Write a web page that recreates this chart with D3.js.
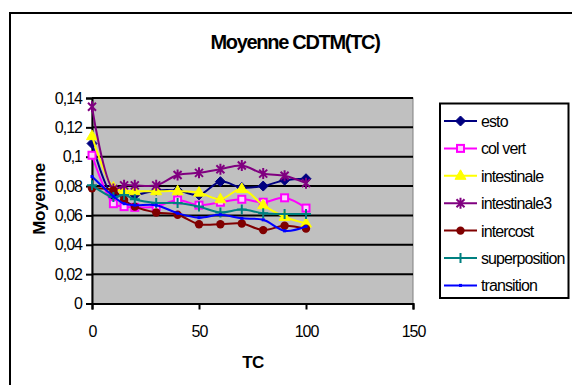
<!DOCTYPE html>
<html>
<head>
<meta charset="utf-8">
<script src="https://cdn.jsdelivr.net/npm/d3@7"></script>
<style>
  body { margin: 0; background: #fff; }
  text { font-family: "Liberation Sans", Arial, sans-serif; }
</style>
</head>
<body>
<div id="chart"></div>
<script>
// valeurs
const tcValues = [0, 10, 15, 20, 30, 40, 50, 60, 70, 80, 90, 100];
const esto = [0.109, 0.073, 0.075, 0.074, 0.077, 0.077, 0.074, 0.083, 0.079, 0.080, 0.084, 0.085];
const colVert = [0.101, 0.068, 0.066, 0.0655, 0.066, 0.0705, 0.067, 0.069, 0.071, 0.069, 0.072, 0.065];
const intestinale = [0.114, 0.079, 0.077, 0.0765, 0.0765, 0.0765, 0.0755, 0.071, 0.078, 0.067, 0.059, 0.0545];
const intestinale3 = [0.134, 0.078, 0.0805, 0.0805, 0.0805, 0.0875, 0.089, 0.0915, 0.094, 0.0885, 0.087, 0.082];
const intercost = [0.0785, 0.077, 0.0705, 0.066, 0.062, 0.0605, 0.054, 0.054, 0.0545, 0.050, 0.053, 0.051];
const superposition = [0.0805, 0.0725, 0.074, 0.071, 0.0685, 0.0685, 0.066, 0.062, 0.064, 0.0615, 0.061, 0.061];
const transition = [0.0865, 0.073, 0.068, 0.067, 0.067, 0.0615, 0.0585, 0.0605, 0.058, 0.057, 0.0495, 0.0525];

const seriesNames = ["esto", "col vert", "intestinale", "intestinale3", "intercost", "superposition", "transition"];
const seriesValues = [esto, colVert, intestinale, intestinale3, intercost, superposition, transition];
const xTicks = [0, 50, 100, 150];
const yTicks = [0, 0.02, 0.04, 0.06, 0.08, 0.1, 0.12, 0.14];

// styles des séries (couleur + marqueur)
const styles = {
  "esto": { color: "#000080", marker: "diamond" },
  "col vert": { color: "#FF00FF", marker: "square" },
  "intestinale": { color: "#FFFF00", marker: "triangle" },
  "intestinale3": { color: "#800080", marker: "star" },
  "intercost": { color: "#800000", marker: "circle" },
  "superposition": { color: "#008080", marker: "plus" },
  "transition": { color: "#0000FF", marker: "dash" }
};

const W = 572, H = 385;
const svg = d3.select("#chart").append("svg")
  .attr("width", W).attr("height", H);

svg.append("rect").attr("width", W).attr("height", H).attr("fill", "#fff");
// cadre du graphique (coupé à droite et en bas)
svg.append("rect")
  .attr("x", 10).attr("y", 13).attr("width", 620).attr("height", 420)
  .attr("fill", "none").attr("stroke", "#000").attr("stroke-width", 2);

const x = d3.scaleLinear().domain([0, 150]).range([92, 413]);
const y = d3.scaleLinear().domain([0, 0.14]).range([303.5, 98]);
const fmt = d => String(+d.toFixed(2)).replace(".", ",");

// zone de traçage
svg.append("rect")
  .attr("x", x(0)).attr("y", y(0.14))
  .attr("width", x(150) - x(0)).attr("height", y(0) - y(0.14))
  .attr("fill", "#C0C0C0").attr("stroke", "#808080").attr("stroke-width", 1);

// quadrillage
svg.append("g").selectAll("line")
  .data(yTicks.filter(d => d > 0))
  .enter().append("line")
  .attr("x1", x(0)).attr("x2", x(150))
  .attr("y1", d => y(d)).attr("y2", d => y(d))
  .attr("stroke", "#000").attr("stroke-width", 2);

// axes
const yAxis = svg.append("g")
  .attr("transform", `translate(${x(0)},0)`)
  .call(d3.axisLeft(y).tickValues(yTicks).tickFormat(fmt).tickSize(6).tickPadding(4));
const xAxis = svg.append("g")
  .attr("transform", `translate(0,${y(0)})`)
  .call(d3.axisBottom(x).tickValues(xTicks).tickFormat(d => d).tickSize(6).tickPadding(16));

[yAxis, xAxis].forEach(a => {
  a.select(".domain").attr("stroke", "#000").attr("stroke-width", 2);
  a.selectAll(".tick line").attr("stroke", "#000").attr("stroke-width", 2);
  a.selectAll(".tick text")
    .attr("fill", "#000")
    .style("font-size", "16px")
    .style("letter-spacing", "-1px")
    .style("font-family", "'Liberation Sans', Arial, sans-serif");
});

// marqueurs
function drawMarker(g, type, color) {
  if (type === "diamond") {
    g.append("path").attr("d", "M0,-5L5,0L0,5L-5,0Z").attr("fill", color).attr("stroke", color);
  } else if (type === "square") {
    g.append("rect").attr("x", -3.5).attr("y", -3.5).attr("width", 7).attr("height", 7)
      .attr("fill", "#ffd0ff").attr("stroke", color).attr("stroke-width", 2);
  } else if (type === "triangle") {
    g.append("path").attr("d", "M0,-6L5.5,3.5L-5.5,3.5Z").attr("fill", color).attr("stroke", color);
  } else if (type === "star") {
    g.append("path").attr("d", "M-4,-4L4,4M-4,4L4,-4M0,-5.5L0,5.5")
      .attr("stroke", color).attr("stroke-width", 2).attr("fill", "none");
  } else if (type === "circle") {
    g.append("circle").attr("r", 4.2).attr("fill", color);
  } else if (type === "plus") {
    g.append("path").attr("d", "M-5,0L5,0M0,-5L0,5")
      .attr("stroke", color).attr("stroke-width", 2).attr("fill", "none");
  } else if (type === "dash") {
    g.append("rect").attr("x", -1.5).attr("y", -1.5).attr("width", 3).attr("height", 3).attr("fill", color);
  }
}

const line = d3.line()
  .x(d => x(d[0])).y(d => y(d[1]))
  .curve(d3.curveCatmullRom.alpha(0.5));

const plot = svg.append("g");
seriesNames.forEach((name, i) => {
  const pts = tcValues.map((t, j) => [t, seriesValues[i][j]]);
  const st = styles[name];
  plot.append("path")
    .attr("d", line(pts))
    .attr("fill", "none")
    .attr("stroke", st.color)
    .attr("stroke-width", 2);
  plot.append("g").selectAll("g")
    .data(pts).enter().append("g")
    .attr("transform", d => `translate(${x(d[0])},${y(d[1])})`)
    .each(function() { drawMarker(d3.select(this), st.marker, st.color); });
});

// titres
svg.append("text")
  .attr("x", 295).attr("y", 49)
  .attr("text-anchor", "middle")
  .style("font-size", "20px").style("font-weight", "bold")
  .style("letter-spacing", "-1.3px")
  .text("Moyenne CDTM(TC)");

svg.append("text")
  .attr("transform", "translate(45,199) rotate(-90)")
  .attr("text-anchor", "middle")
  .style("font-size", "17px").style("font-weight", "bold")
  .style("letter-spacing", "-0.3px")
  .text("Moyenne");

svg.append("text")
  .attr("x", 253).attr("y", 368)
  .attr("text-anchor", "middle")
  .style("font-size", "17px").style("font-weight", "bold")
  .style("letter-spacing", "-0.5px")
  .text("TC");

// légende
const legend = svg.append("g");
legend.append("rect")
  .attr("x", 440).attr("y", 103.5).attr("width", 128.5).attr("height", 194.5)
  .attr("fill", "#fff").attr("stroke", "#000").attr("stroke-width", 2);

const items = legend.selectAll(".item")
  .data(seriesNames).enter().append("g")
  .attr("class", "item")
  .attr("transform", (d, i) => `translate(0,${121 + i * 27.4})`);

items.append("line")
  .attr("x1", 444).attr("x2", 477).attr("y1", 0).attr("y2", 0)
  .attr("stroke", d => styles[d].color).attr("stroke-width", 2);
items.append("g")
  .attr("transform", "translate(460.5,0)")
  .each(function(d) { drawMarker(d3.select(this), styles[d].marker, styles[d].color); });
items.append("text")
  .attr("x", 481).attr("y", 6)
  .style("font-size", "16px")
  .style("letter-spacing", "-0.9px")
  .text(d => d);
</script>
</body>
</html>
